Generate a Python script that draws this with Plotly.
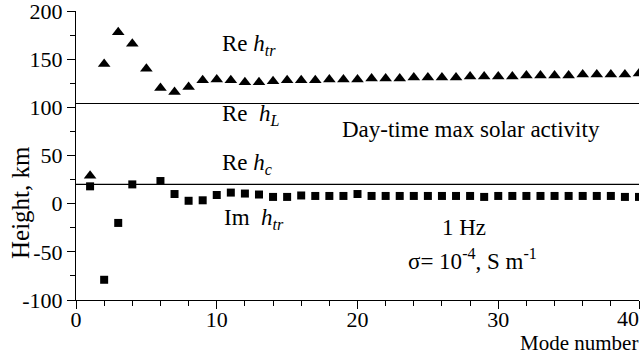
import plotly.graph_objects as go

modes = list(range(1, 41))
re_htr = [29, 145, 178, 166, 140, 120, 116, 121, 128, 129,
          128, 126, 126, 127, 128, 128, 128, 129, 129, 129,
          130, 130, 130, 131, 131, 131, 131, 132, 132, 132,
          132, 133, 133, 133, 133, 134, 134, 134, 134, 135]
im_htr = [18, -79, -20, 20, None, 23.5, 10, 3, 3.5, 9,
          11.5, 10.5, 9.5, 7, 7, 8.5, 8, 8, 8, 10,
          8, 8, 8, 8, 8, 8, 8, 8, 7, 8,
          8, 8, 8, 8, 8, 8, 8, 8, 7, 7]
line_x = [0, 40]
re_hL = [104, 104]
re_hc = [20, 20]
x_ticks = [0, 10, 20, 30, 40]
x_ticktext = ["0", "10", "20", "30", ""]
last_x_label = "40"
y_ticks = [-100, -50, 0, 50, 100, 150, 200]
y_ticktext = ["-100", "-50", "0", "50", "100", "150", "200"]

FONT = "Times New Roman, Liberation Serif, serif"
fig = go.Figure()
fig.add_trace(go.Scatter(x=line_x, y=re_hL, mode="lines",
                         line=dict(color="black", width=1.2), showlegend=False))
fig.add_trace(go.Scatter(x=line_x, y=re_hc, mode="lines",
                         line=dict(color="black", width=1.2), showlegend=False))
fig.add_trace(go.Scatter(x=modes, y=re_htr, mode="markers",
                         marker=dict(symbol="triangle-up", size=11, color="black"),
                         showlegend=False))
fig.add_trace(go.Scatter(x=modes, y=im_htr, mode="markers",
                         marker=dict(symbol="square", size=8, color="black"),
                         showlegend=False))

tick_font = dict(family=FONT, size=22, color="black")
fig.update_xaxes(range=[0, 40], tickvals=x_ticks, ticktext=x_ticktext, ticks="outside",
                 ticklen=8, tickwidth=1, tickcolor="black", showline=True,
                 linecolor="black", linewidth=1, showgrid=False, zeroline=False,
                 tickfont=tick_font, ticklabeloverflow="allow", automargin=False,
                 ticklabelstandoff=-8,
                 minor=dict(dtick=2, ticks="outside", ticklen=5, tickcolor="black", showgrid=False))
fig.update_yaxes(range=[-100, 200], tickvals=y_ticks, ticktext=y_ticktext,
                 ticks="outside", ticklen=8, tickwidth=1, tickcolor="black",
                 showline=True, linecolor="black", linewidth=1, showgrid=False,
                 zeroline=False, tickfont=tick_font, ticklabeloverflow="allow",
                 automargin=False,
                 minor=dict(dtick=25, ticks="outside", ticklen=5, tickcolor="black", showgrid=False))

af = dict(family=FONT, size=23, color="black")
nb = "\u00a0"
anns = [
    ("Re" + nb + "<i>h</i><sub><i>tr</i></sub>", 10.2, 164.5, "left"),
    ("Re" + nb + nb + "<i>h</i><sub><i>L</i></sub>", 10.2, 92, "left"),
    ("Day-time max solar activity", 28.05, 77.5, "center"),
    ("Re" + nb + "<i>h</i><sub><i>c</i></sub>", 10.2, 41, "left"),
    ("Im" + nb + nb + "<i>h</i><sub><i>tr</i></sub>", 10.4, -16, "left"),
    ("1 Hz", 27.6, -25, "center"),
    ("σ= 10<sup>-4</sup>, S m<sup>-1</sup>", 28.2, -57.6, "center"),
]
for t, x, y, xa in anns:
    fig.add_annotation(text=t, x=x, y=y, xref="x", yref="y", xanchor=xa,
                       yanchor="middle", showarrow=False, font=af)

fig.add_annotation(text=last_x_label, x=641, y=318, xref="paper", yref="paper",
                   xanchor="right", yanchor="middle", showarrow=False, font=tick_font)
fig.add_annotation(text="Height, km", x=20, y=203, xref="paper", yref="paper",
                   xanchor="center", yanchor="middle", textangle=-90,
                   showarrow=False, font=dict(family=FONT, size=25, color="black"))
fig.add_annotation(text="Mode number", x=640, y=343, xref="paper", yref="paper",
                   xanchor="right", yanchor="middle", showarrow=False,
                   font=dict(family=FONT, size=21, color="black"))

fig.update_layout(width=644, height=362, margin=dict(l=76, r=5, t=11, b=62),
                  plot_bgcolor="white", paper_bgcolor="white",
                  font=dict(family=FONT, color="black"))

W, H = 644, 362
pw, ph = W - 76 - 5, H - 11 - 62
for a in fig.layout.annotations:
    if a.xref == "paper":
        a.x = (a.x - 76) / pw
        a.y = 1 - (a.y - 11) / ph

fig.write_html("out.html")
